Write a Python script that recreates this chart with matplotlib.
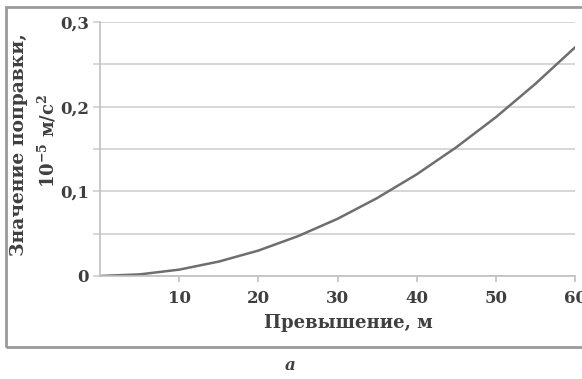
import matplotlib.pyplot as plt
from matplotlib.patches import Rectangle
from matplotlib.ticker import MultipleLocator

# превышение, м и значение поправки, 10^-5 м/с^2
prevyshenie = [0, 5, 10, 15, 20, 25, 30, 35, 40, 45, 50, 55, 60]
popravka = [0.0, 0.0019, 0.0075, 0.017, 0.030, 0.047, 0.0675,
            0.092, 0.120, 0.152, 0.1875, 0.227, 0.270]

x_ticks = [10, 20, 30, 40, 50, 60]
y_ticks = [0, 0.1, 0.2, 0.3]
y_labels = ["0", "0,1", "0,2", "0,3"]

plt.rcParams['font.family'] = ['DejaVu Serif']
plt.rcParams['mathtext.fontset'] = 'dejavuserif'
txt = '#3f3f3f'

fig = plt.figure(figsize=(5.82, 3.79), dpi=100)
ax = fig.add_axes([0.1718, 0.2718, 0.8162, 0.6702])

ax.plot(prevyshenie, popravka, color='#6e6e6e', lw=1.8)

ax.set_xlim(0, 60)
ax.set_ylim(0, 0.3)
ax.yaxis.set_minor_locator(MultipleLocator(0.05))
ax.set_yticks(y_ticks)
ax.set_yticklabels(y_labels)
ax.set_xticks(x_ticks)
ax.grid(axis='y', which='both', color='#d0d0d0', lw=1.2)
ax.set_axisbelow(True)

for s in ['top', 'right']:
    ax.spines[s].set_visible(False)
for s in ['left', 'bottom']:
    ax.spines[s].set_color('#c0c0c0')
    ax.spines[s].set_linewidth(1.2)

ax.tick_params(axis='y', which='both', length=5, color='#d0d0d0', width=1.2,
               labelsize=12, labelcolor=txt, pad=3)
ax.tick_params(axis='x', length=4, color='#c0c0c0', width=1.2,
               labelsize=12, labelcolor=txt, pad=6)
for lab in ax.get_xticklabels() + ax.get_yticklabels():
    lab.set_fontweight('bold')

ax.set_xlabel('Превышение, м', fontsize=13, fontweight='bold', color=txt)
ax.xaxis.set_label_coords(0.522, -0.148)
ax.xaxis.label.set_va('top')

# подпись оси Y в две строки
fig.text(19 / 582, 1 - 145 / 379, 'Значение поправки,', rotation=90,
         ha='center', va='center', fontsize=13.5, fontweight='bold', color=txt)
fig.text(47 / 582, 1 - 141 / 379, '$\\mathbf{10^{-5}}$ м/с$^{\\mathbf{2}}$', rotation=90,
         ha='center', va='center', fontsize=13, fontweight='bold', color=txt)

# рамка вокруг рисунка
fig.patches.append(Rectangle((6 / 582, 1 - 347 / 379), 1.1, (347 - 7) / 379,
                             transform=fig.transFigure, fill=False,
                             edgecolor='#9a9a9a', lw=2))
fig.text(290 / 582, 1 - 366 / 379, 'а', ha='center', va='center',
         fontsize=12, style='italic', fontweight='bold', color=txt)

fig.savefig('out.png', dpi=100)
